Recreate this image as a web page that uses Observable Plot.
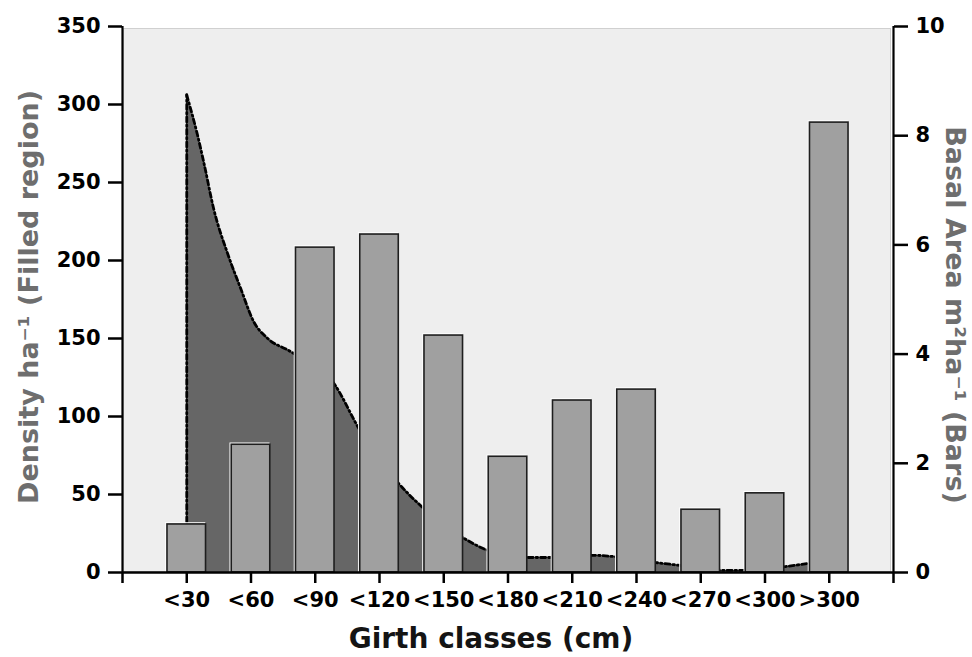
<!DOCTYPE html>
<html>
<head>
<meta charset="utf-8">
<script src="https://cdn.jsdelivr.net/npm/d3@7"></script>
<script src="https://cdn.jsdelivr.net/npm/@observablehq/plot@0.6"></script>
<style>
  html, body { margin: 0; padding: 0; background: #ffffff; }
  #chart { width: 972px; height: 657px; }
</style>
</head>
<body>
<div id="chart"></div>
<script>
// Girth classes (categories, placed at positions 1..11)
const classes = ["<30", "<60", "<90", "<120", "<150", "<180", "<210", "<240", "<270", "<300", ">300"];
// Basal area m2 ha-1 (bars)
const basal = [0.88, 2.34, 5.95, 6.19, 4.34, 2.12, 3.15, 3.35, 1.15, 1.45, 8.24];
// Density ha-1 (filled region): curve at class positions
const densityPos = [1, 1.17, 1.27, 1.42, 1.64, 1.84, 2.04, 2.26, 2.6, 3.31, 3.67, 4.3, 4.69, 5.31, 5.7, 6.3, 6.66, 7.33, 7.7, 8.3, 8.69, 9.31, 9.67, 10.32, 10.68, 11];
const densityVal = [306, 280, 262, 233, 204, 182, 161, 150, 142, 120, 93, 57, 41, 22, 14, 9.6, 9.6, 11, 10, 6.4, 4.5, 1.3, 1.3, 3.8, 5.8, 7];
// Tick values
const densityTicks = [0, 50, 100, 150, 200, 250, 300, 350];
const basalTicks = [0, 2, 4, 6, 8, 10];

const BA_SCALE = 350 / 10; // right axis 0..10 mapped onto left axis 0..350

const bars = classes.map((c, i) => ({cls: c, pos: i + 1, basal: basal[i]}));
const curve = densityPos.map((p, i) => ({pos: p, density: densityVal[i]}));

const dash = {stroke: "#000", strokeWidth: 2.8, strokeDasharray: "5,3,1.5,3", strokeLinecap: "round"};

const chart = Plot.plot({
  width: 972,
  height: 657,
  marginLeft: 122,
  marginRight: 79,
  marginTop: 26,
  marginBottom: 85,
  style: {fontFamily: "DejaVu Sans", fontWeight: "bold", fontSize: "20px", color: "#000", background: "#ffffff", overflow: "visible"},
  x: {domain: [0, 12], axis: null},
  y: {domain: [0, 350], axis: null},
  marks: [
    Plot.frame({fill: "#eeeeee", stroke: "#d0d0d0", insetTop: 2, insetRight: 3, insetLeft: 1, insetBottom: 1}),
    Plot.areaY(curve, {x: "pos", y: "density", curve: "monotone-x", fill: "#666666"}),
    Plot.lineY(curve, {x: "pos", y: "density", curve: "monotone-x", ...dash}),
    Plot.ruleX(curve.slice(0, 1), {x: "pos", y1: 0, y2: "density", ...dash}),
    Plot.rectY(bars, {x1: d => d.pos - 0.3, x2: d => d.pos + 0.3, y1: 0, y2: d => d.basal * BA_SCALE, fill: "none", stroke: "#ffffff", strokeWidth: 1.5, dx: -1, dy: -1}),
    Plot.rectY(bars, {x1: d => d.pos - 0.3, x2: d => d.pos + 0.3, y1: 0, y2: d => d.basal * BA_SCALE, fill: "#a0a0a0", stroke: "#1e1e1e", strokeWidth: 1.6}),
    Plot.axisY({anchor: "left", ticks: densityTicks, tickSize: 14, tickPadding: 8, strokeWidth: 2.5, label: null, fontSize: 21}),
    Plot.axisY({anchor: "right", ticks: basalTicks.map(v => v * BA_SCALE), tickFormat: v => String(Math.round(v / BA_SCALE)), tickSize: 14, tickPadding: 8, strokeWidth: 2.5, label: null, fontSize: 21}),
    Plot.axisX({ticks: d3.range(0, 13), tickFormat: i => classes[i - 1] ?? "", tickSize: 11, tickPadding: 9, strokeWidth: 2.5, label: null, fontSize: 21}),
    Plot.ruleX([0, 12], {y1: 0, y2: 350, stroke: "#000", strokeWidth: 2.2}),
    Plot.ruleY([0], {x1: 0, x2: 12, stroke: "#000", strokeWidth: 2.6})
  ]
});

document.getElementById("chart").appendChild(chart);

// Axis titles
const svg = d3.select(chart);
svg.append("text")
  .attr("transform", "translate(28,297) rotate(-90)")
  .attr("text-anchor", "middle")
  .attr("dominant-baseline", "central")
  .attr("font-family", "DejaVu Sans")
  .attr("font-weight", "bold")
  .attr("font-size", 27)
  .attr("fill", "#6e6e6e")
  .text("Density ha⁻¹ (Filled region)");

svg.append("text")
  .attr("transform", "translate(955,315) rotate(90)")
  .attr("text-anchor", "middle")
  .attr("dominant-baseline", "central")
  .attr("font-family", "DejaVu Sans")
  .attr("font-weight", "bold")
  .attr("font-size", 27)
  .attr("fill", "#6e6e6e")
  .text("Basal Area m²ha⁻¹ (Bars)");

svg.append("text")
  .attr("x", 491)
  .attr("y", 648)
  .attr("text-anchor", "middle")
  .attr("font-family", "DejaVu Sans")
  .attr("font-weight", "bold")
  .attr("font-size", 28)
  .attr("fill", "#141414")
  .text("Girth classes (cm)");
</script>
</body>
</html>
